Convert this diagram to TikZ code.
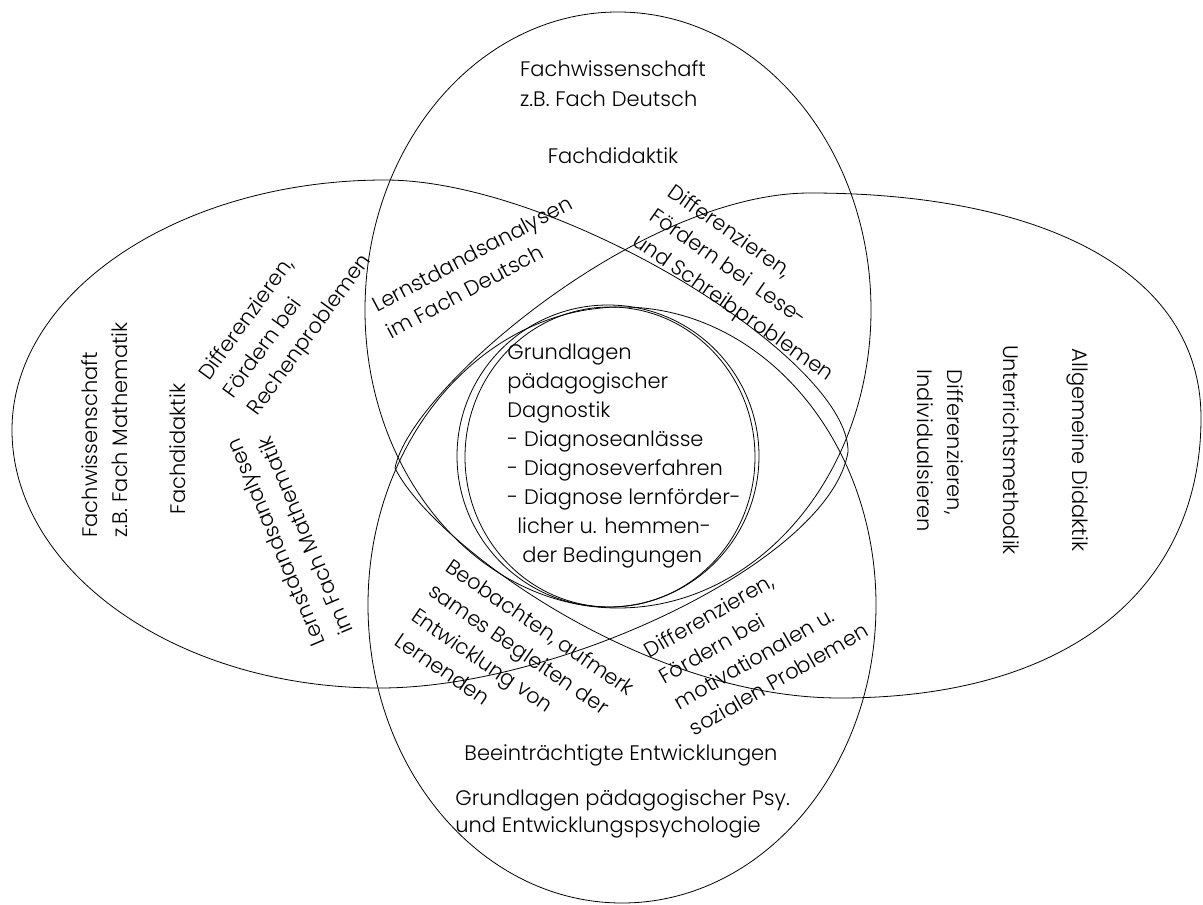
\documentclass[tikz,border=0pt]{standalone}
\usepackage{fontspec}
\setmainfont{Poppins}[UprightFont={* Light}]

\begin{document}
\begin{tikzpicture}[x=1pt,y=-1pt,line width=0.8pt,
                    txt/.style={font=\fontsize{21}{30}\selectfont,align=left,inner sep=0pt},
                    mid/.style={font=\fontsize{21}{29}\selectfont,align=left,inner sep=0pt},
                    low/.style={font=\fontsize{21}{27}\selectfont,align=left,inner sep=0pt}]
                        \useasboundingbox (0,0) rectangle (1203,905);

                        \draw (618,310) ellipse [x radius=253pt, y radius=298pt];
                        \draw (622,605) ellipse [x radius=254pt, y radius=298pt];

                        \draw (12,430) .. controls (12,292) and (180,180) .. (385,180)
                              .. controls (560,180) and (850,360) .. (848,452)
                              .. controls (830,560) and (560,688) .. (380,688)
                              .. controls (175,688) and (12,570) .. cycle;
                        \draw (1201,418) .. controls (1201,270) and (1040,193) .. (810,193)
                              .. controls (640,193) and (410,390) .. (395,468)
                              .. controls (430,540) and (640,698) .. (840,698)
                              .. controls (1080,698) and (1201,580) .. cycle;

                        \draw (608,456) circle [radius=151pt];
                        \draw (610,457) ellipse [x radius=145pt, y radius=150pt];

                        \node[txt] (fwde) at (613,84) {Fachwissenschaft\\z.B. Fach Deutsch};
                        \node[txt] (fdde) at (613,156) {Fachdidaktik};

                        \node[txt,rotate=90] (fwma) at (105,430) {Fachwissenschaft\\z.B. Fach Mathematik};
                        \node[txt,rotate=90] (fdma) at (178,449) {Fachdidaktik};
                        \node[txt,rotate=54] (difma) at (286,318) {Differenzieren,\\F\"ordern bei\\Rechenproblemen};
                        \node[txt,rotate=113] (lsma) at (289,537) {Lernstdandsanalysen\\im Fach Mathematik};

                        \node[txt,rotate=28] (lsde) at (479,267) {Lernstdandsanalysen\\im Fach Deutsch};
                        \node[txt,rotate=-35] (difde) at (750,284) {Differenzieren,\\F\"ordern bei\ \ Lese-\\und Schreibproblemen};

                        \node[txt,rotate=-90] (allg) at (1078,450) {Allgemeine Didaktik};
                        \node[txt,rotate=-90] (um) at (1011,450) {Unterrichtsmethodik};
                        \node[txt,rotate=-90] (difind) at (940,451) {Differenzieren,\\Individualsieren};

                        \node[mid,anchor=north west] (diag) at (507,344) {Grundlagen\\p\"adagogischer\\Dagnostik\\- Diagnoseanl\"asse\\- Diagnoseverfahren\\- Diagnose lernf\"order-\\\hspace*{10pt}licher u. hemmen-\\\hspace*{15pt}der Bedingungen};

                        \node[txt,rotate=-34.5] (beob) at (515,664) {Beobachten, aufmerk\\sames Begleiten der\\Entwicklung von\\Lernenden};
                        \node[txt,rotate=30] (difmot) at (756,640) {Differenzieren,\\F\"ordern bei\\motivationalen u.\\sozialen Problemen};

                        \node[txt] (beein) at (621,755) {Beeintr\"achtigte Entwicklungen};
                        \node[low,anchor=north west] (psy) at (455,789) {Grundlagen p\"adagogischer Psy.\\und Entwicklungspsychologie};
                    \end{tikzpicture}
\end{document}
